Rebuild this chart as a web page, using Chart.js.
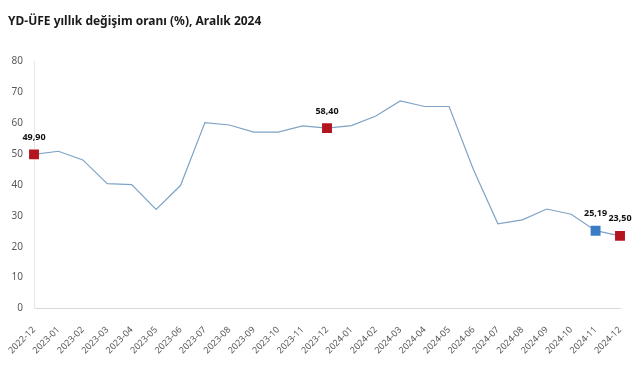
<!DOCTYPE html>
<html>
<head>
<meta charset="utf-8">
<script src="https://cdn.jsdelivr.net/npm/chart.js@4.4.1/dist/chart.umd.min.js"></script>
<style>
  html, body { margin: 0; padding: 0; background: #ffffff; }
  #wrap { width: 641px; height: 380px; }
</style>
</head>
<body>
<div id="wrap"><canvas id="c" width="641" height="380"></canvas></div>
<script>
const categories = ["2022-12","2023-01","2023-02","2023-03","2023-04","2023-05","2023-06","2023-07","2023-08","2023-09","2023-10","2023-11","2023-12","2024-01","2024-02","2024-03","2024-04","2024-05","2024-06","2024-07","2024-08","2024-09","2024-10","2024-11","2024-12"];
const values = [49.90, 50.9, 48.1, 40.4, 40.1, 32.1, 39.8, 60.2, 59.4, 57.1, 57.1, 59.1, 58.40, 59.2, 62.3, 67.2, 65.4, 65.4, 44.9, 27.4, 28.7, 32.2, 30.5, 25.19, 23.50];
const labeledIndexes = [0, 12, 23, 24];
const yTicks = [0, 10, 20, 30, 40, 50, 60, 70, 80];
const titleText = "YD-ÜFE yıllık değişim oranı (%), Aralık 2024";

const RED = "#b3141d";
const BLUE = "#3b7dc4";
const pointColors = categories.map((_, i) => i === 23 ? BLUE : RED);
const pointRadii = categories.map((_, i) => labeledIndexes.includes(i) ? 7 : 0);

const fmt = v => v.toFixed(2).replace(".", ",");

const labelPlugin = {
  id: "valueLabels",
  afterDatasetsDraw(chart) {
    const meta = chart.getDatasetMeta(0);
    const ctx = chart.ctx;
    ctx.save();
    ctx.font = "bold 9px 'Noto Sans', sans-serif";
    ctx.fillStyle = "#111111";
    ctx.textAlign = "center";
    ctx.textBaseline = "middle";
    labeledIndexes.forEach(i => {
      const el = meta.data[i];
      ctx.fillText(fmt(values[i]), el.x, el.y - 17);
    });
    ctx.restore();
  }
};

new Chart(document.getElementById("c"), {
  type: "line",
  data: {
    labels: categories,
    datasets: [{
      data: values,
      borderColor: "#7fa3c4",
      borderWidth: 1.2,
      tension: 0,
      pointStyle: "rect",
      pointRadius: pointRadii,
      pointHoverRadius: pointRadii,
      pointBackgroundColor: pointColors,
      pointBorderColor: pointColors,
      pointBorderWidth: 0
    }]
  },
  options: {
    responsive: false,
    animation: false,
    events: [],
    layout: { padding: { left: 8, right: 21, top: 0, bottom: 16 } },
    plugins: {
      legend: { display: false },
      tooltip: { enabled: false },
      title: {
        display: true,
        text: titleText,
        align: "start",
        color: "#1a1a1a",
        font: { family: "'Noto Sans', sans-serif", size: 12, weight: "bold" },
        padding: { top: 14, bottom: 33 }
      }
    },
    scales: {
      x: {
        offset: false,
        grid: { display: false },
        border: { display: true, color: "#d9d9d9" },
        ticks: {
          autoSkip: false,
          maxRotation: 45,
          minRotation: 45,
          color: "#595959",
          font: { family: "'Noto Sans', sans-serif", size: 9 },
          padding: 8
        }
      },
      y: {
        min: 0,
        max: 80,
        afterBuildTicks(scale) { scale.ticks = yTicks.map(v => ({ value: v })); },
        afterFit(scale) { scale.width = 26; },
        grid: { display: false },
        border: { display: true, color: "#e6e6e6" },
        ticks: {
          color: "#595959",
          font: { family: "'Noto Sans', sans-serif", size: 10 },
          padding: 3
        }
      }
    }
  },
  plugins: [labelPlugin]
});
</script>
</body>
</html>
